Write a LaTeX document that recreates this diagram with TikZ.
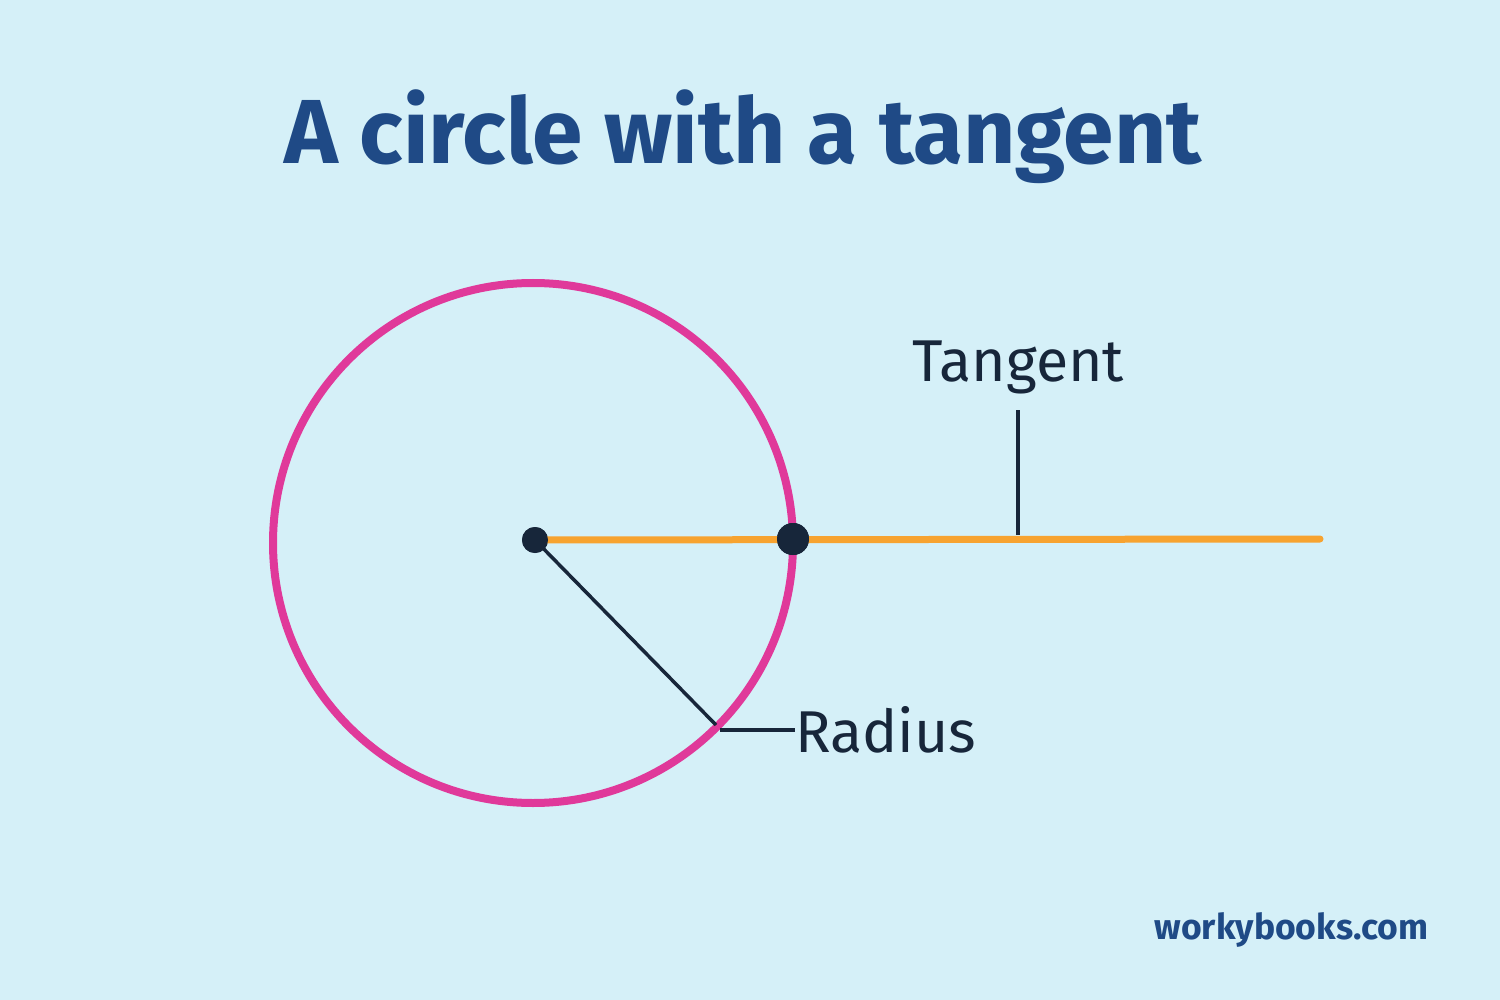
\documentclass[tikz,border=0pt]{standalone}
\usepackage{fontspec}
\setmainfont{Fira Sans}
\definecolor{bg}{HTML}{D5F0F8}
\definecolor{mag}{HTML}{E0399A}
\definecolor{org}{HTML}{F7A330}
\definecolor{ink}{HTML}{17263A}
\definecolor{ttl}{HTML}{1F4A86}
\begin{document}
\begin{tikzpicture}[x=1pt,y=-1pt,
  lbl/.style={font=\fontsize{59}{63}\selectfont, text=ink, inner sep=0pt},
  dot/.style={circle, fill=ink, inner sep=0pt}]
\fill[bg] (0,0) rectangle (1500,1000);
\useasboundingbox (0,0) rectangle (1500,1000);
\node[font=\fontsize{91}{98}\selectfont\bfseries, text=ttl] (title) at (743,137) {A circle with a tangent};
\draw[mag, line width=8] (533,543) circle (260);
\coordinate (tend) at (1320,539);
\node[dot, minimum size=26] (c) at (535,540) {};
\node[dot, minimum size=32] (p) at (793,539) {};
\draw[org, line width=7, line cap=round] (c.center) -- (tend);
\node[dot, minimum size=26] at (535,540) {};
\node[dot, minimum size=32] at (793,539) {};
\coordinate (rend) at (716,725);
\draw[ink, line width=3.5] (c.center) -- (rend);
\node[lbl, anchor=west] (rad) at (795,730) {Radius};
\draw[ink, line width=3.5] (720,730) -- (rad.west);
\node[lbl] (tan) at (1018,367) {Tangent};
\coordinate (tfoot) at (1018,535);
\draw[ink, line width=3.5] (1018,410) -- (tfoot);
\node[font=\fontsize{35.5}{40}\selectfont\bfseries, text=ttl, anchor=east] (wm) at (1432,930) {workybooks.com};
\end{tikzpicture}
\end{document}
